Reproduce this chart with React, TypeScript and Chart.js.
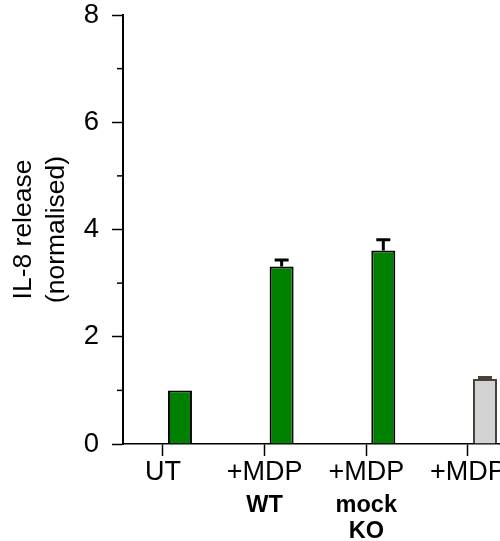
import React, { useEffect, useRef } from 'react';
import { Chart, registerables } from 'chart.js';

Chart.register(...registerables);

const categories = ['UT', '+MDP', '+MDP', '+MDP'];
const subLabels: string[][] = [[], ['WT'], ['mock', 'KO'], []];
const values = [1.0, 3.31, 3.61, 1.21];
const errors = [0, 0.12, 0.2, 0.03];
const barColors = ['#008000', '#008000', '#008000', '#d3d3d3'];
const borderColors = ['#000000', '#000000', '#000000', '#4a4035'];
const yTicks = [0, 2, 4, 6, 8];
const yMinorTicks = [1, 3, 5, 7];
const yTitle = ['IL-8 release', '(normalised)'];

const FONT = '"Liberation Sans", Arial, Helvetica, sans-serif';

const overlay = {
  id: 'overlay',
  afterDatasetsDraw(chart: any) {
    const ctx = chart.ctx as CanvasRenderingContext2D;
    const xs = chart.scales.x;
    const ys = chart.scales.y;
    const meta = chart.getDatasetMeta(1);
    ctx.save();
    meta.data.forEach((bar: any, i: number) => {
      const e = errors[i];
      if (!e) return;
      const base = ys.getPixelForValue(values[i]);
      const top = ys.getPixelForValue(values[i] + e);
      ctx.strokeStyle = borderColors[i];
      ctx.lineWidth = 3;
      ctx.beginPath();
      ctx.moveTo(bar.x, base);
      ctx.lineTo(bar.x, top);
      ctx.moveTo(bar.x - 7, top);
      ctx.lineTo(bar.x + 7, top);
      ctx.stroke();
    });
    ctx.strokeStyle = '#000';
    ctx.lineWidth = 1.5;
    yMinorTicks.forEach((v) => {
      const py = ys.getPixelForValue(v);
      ctx.beginPath();
      ctx.moveTo(ys.right - 6, py);
      ctx.lineTo(ys.right, py);
      ctx.stroke();
    });
    ctx.font = 'bold 23.5px ' + FONT;
    ctx.fillStyle = '#000';
    ctx.textAlign = 'center';
    ctx.textBaseline = 'middle';
    subLabels.forEach((lines, i) => {
      const px = xs.getPixelForValue(i);
      lines.forEach((t, j) => {
        ctx.fillText(t, px, xs.top + 62 + j * 26);
      });
    });
    ctx.restore();
  },
};

export default function App() {
  const ref = useRef<HTMLCanvasElement | null>(null);
  useEffect(() => {
    if (!ref.current) return;
    Chart.defaults.font.family = FONT;
    const chart = new Chart(ref.current, {
      type: 'bar',
      data: {
        datasets: [
          {
            data: values.map((_, i) => ({ x: i, y: null })),
            backgroundColor: 'transparent',
          },
          {
            data: values.map((v, i) => ({ x: i, y: v })),
            backgroundColor: barColors,
            borderColor: borderColors,
            borderWidth: 2,
          },
        ],
      } as any,
      options: {
        responsive: false,
        animation: false,
        layout: { padding: { top: 15, right: 0, left: 0, bottom: 0 } },
        plugins: { legend: { display: false }, tooltip: { enabled: false } },
        datasets: { bar: { categoryPercentage: 0.669, barPercentage: 0.706 } },
        scales: {
          x: {
            type: 'linear',
            min: -0.393,
            max: 3.315,
            offset: false,
            ticks: {
              stepSize: 1,
              includeBounds: false,
              autoSkip: false,
              maxRotation: 0,
              callback: (v: any) => categories[v] ?? '',
              font: { size: 27 },
              color: '#000',
              padding: 0,
            },
            grid: {
              offset: false,
              drawOnChartArea: false,
              drawTicks: true,
              tickLength: 12,
              tickWidth: 1.5,
              tickColor: '#000',
            },
            border: { color: '#000', width: 1.5 },
            afterFit: (s: any) => {
              s.height = 97;
              s.paddingLeft = 0;
              s.paddingRight = 0;
            },
          },
          y: {
            min: 0,
            max: 8,
            ticks: {
              stepSize: 1,
              callback: (v: any) => (yTicks.includes(v) ? String(v) : ''),
              font: { size: 27.5 },
              color: '#000',
              padding: 13,
            },
            grid: {
              drawOnChartArea: false,
              tickLength: 11,
              tickWidth: 1.5,
              tickColor: (c: any) => (yTicks.includes(c.tick?.value) ? '#000' : 'transparent'),
            },
            border: { color: '#000', width: 2 },
            title: {
              display: true,
              text: yTitle,
              font: { size: 26.5, lineHeight: 1.22 },
              color: '#000',
              padding: { top: 8, bottom: 0 },
            },
            afterFit: (s: any) => {
              s.width = 123;
              s.paddingTop = 0;
              s.paddingBottom = 0;
            },
          },
        },
      } as any,
      plugins: [overlay],
    });
    return () => chart.destroy();
  }, []);
  return (
    <div style={{ position: 'fixed', left: 0, top: 0, width: 500, height: 541, overflow: 'hidden', background: '#fff' }}>
      <canvas ref={ref} width={500} height={541} style={{ display: 'block' }} />
    </div>
  );
}
